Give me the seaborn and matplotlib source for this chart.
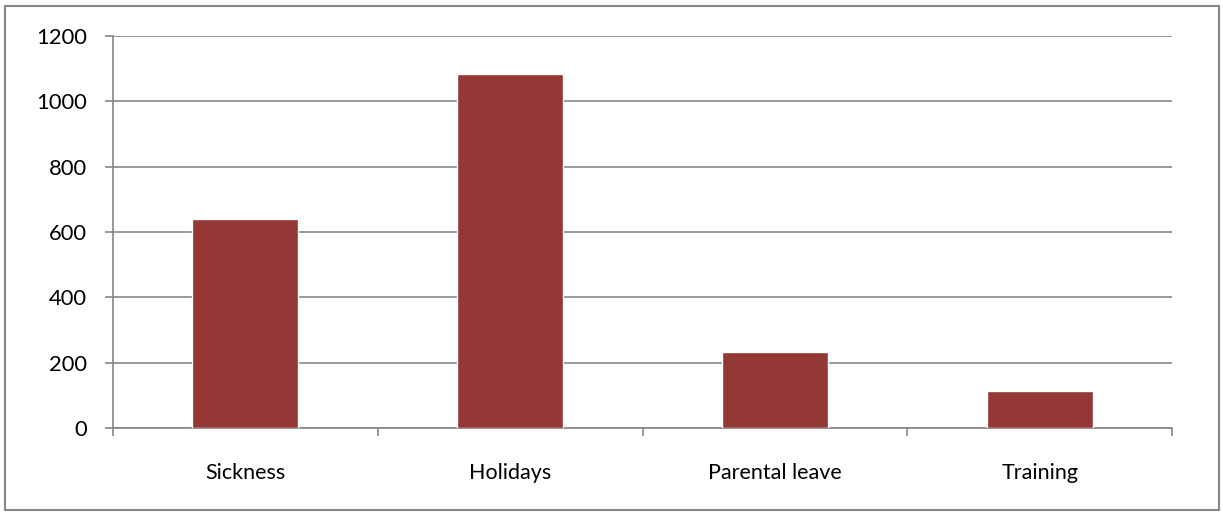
import matplotlib
matplotlib.use("Agg")
import matplotlib.pyplot as plt
from matplotlib.patches import Rectangle
import seaborn as sns
import pandas as pd
import numpy as np

categories = ["Sickness", "Holidays", "Parental leave", "Training"]
values = [640, 1085, 232, 112]
y_ticks = [0, 200, 400, 600, 800, 1000, 1200]

bar_color = "#953735"
grid_color = "#868686"

sns.set_theme(style="white")
plt.rcParams["font.family"] = ["Lato", "DejaVu Sans"]

df = pd.DataFrame({"category": categories, "value": values})

fig = plt.figure(figsize=(12.23, 5.12), dpi=100)
W, H = 1223, 512
ax = fig.add_axes([113 / W, 1 - 428 / H, (1172 - 113) / W, (428 - 36) / H])

sns.barplot(data=df, x="category", y="value", color=bar_color, width=0.4,
            saturation=1, ax=ax, zorder=3)

ax.set_ylim(0, 1200)
ax.set_xlim(-0.5, len(categories) - 0.5)
ax.set_yticks(y_ticks)
ax.set_yticklabels([str(t) for t in y_ticks])
ax.set_xlabel("")
ax.set_ylabel("")

ax.yaxis.grid(True, color=grid_color, linewidth=1.2, zorder=0)
ax.set_axisbelow(True)

for side in ["top", "right"]:
    ax.spines[side].set_visible(False)
for side in ["left", "bottom"]:
    ax.spines[side].set_color(grid_color)
    ax.spines[side].set_linewidth(1.2)

ax.tick_params(axis="y", which="major", direction="out", length=6, width=1.2,
               color=grid_color, labelsize=15.8, pad=13, left=True, labelcolor="black")
ax.tick_params(axis="x", which="major", length=0, labelsize=15.5, pad=25,
               labelcolor="black")
ax.set_xticks(np.arange(-0.5, len(categories)), minor=True)
ax.tick_params(axis="x", which="minor", direction="out", length=6, width=1.2,
               color=grid_color, bottom=True)

# outer chart border
fig.patches.append(Rectangle((5 / W, 1 - 510 / H), (1219 - 5) / W, (510 - 6) / H,
                             transform=fig.transFigure, fill=False,
                             edgecolor=grid_color, linewidth=1.5))

fig.savefig("out.png", dpi=100)
